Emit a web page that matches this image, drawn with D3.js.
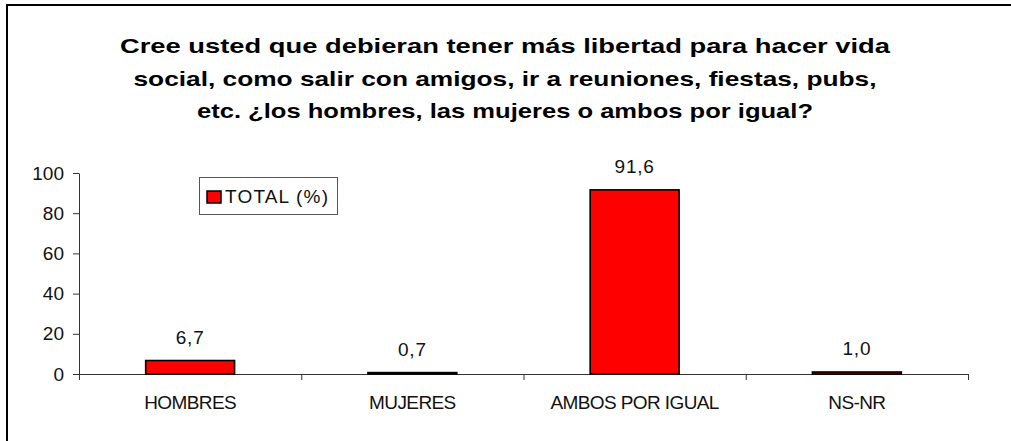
<!DOCTYPE html>
<html lang="es">
<head>
    <meta charset="UTF-8">
    <script src="https://d3js.org/d3.v7.min.js"></script>
    <title>Libertad para hacer vida social</title>
    <style>
        body { margin: 0; background: #fff; }
        svg text { font-family: "Liberation Sans", Arial, sans-serif; fill: #111; }
    </style>
</head>
<body>
    <script>
        // datos
        var categories = ['HOMBRES', 'MUJERES', 'AMBOS POR IGUAL', 'NS-NR'];
        var values = [6.7, 0.7, 91.6, 1.0];
        var yTicks = [0, 20, 40, 60, 80, 100];
        var seriesName = 'TOTAL (%)';
        var titleLines = [
            'Cree usted que debieran tener más libertad para hacer vida',
            'social, como salir con amigos, ir a reuniones, fiestas, pubs,',
            'etc. ¿los hombres, las mujeres o ambos por igual?'
        ];
        var titleWidths = [770, 743, 616];

        var width = 1011;
        var height = 441;

        var svg = d3.select('body')
                    .append('svg')
                    .attr('width', width)
                    .attr('height', height);

        // marco exterior
        svg.append('rect')
            .attr('x', 7)
            .attr('y', 5)
            .attr('width', 1020)
            .attr('height', 460)
            .attr('fill', 'none')
            .attr('stroke', '#000')
            .attr('stroke-width', 2);

        // titulo
        svg.append('g')
            .selectAll('text')
            .data(titleLines)
            .enter()
                .append('text')
                .attr('x', 505)
                .attr('y', function(d, i){ return 53 + i * 32.5; })
                .attr('text-anchor', 'middle')
                .attr('textLength', function(d, i){ return titleWidths[i]; })
                .attr('lengthAdjust', 'spacingAndGlyphs')
                .style('font-size', '21px')
                .style('font-weight', 'bold')
                .style('fill', '#000')
                .text(function(d){ return d; });

        var x = d3.scaleBand()
                  .domain(categories)
                  .range([79, 968]);
        var xEdge = d3.scaleLinear()
                      .domain([0, categories.length])
                      .range([79, 968]);
        var y = d3.scaleLinear()
                  .domain([0, 100])
                  .range([374, 173]);

        var barW = x.bandwidth() * 0.4;

        // eje x (marcas entre categorias)
        var xAxisG = svg.append('g')
            .attr('transform', 'translate(0,374)')
            .call(d3.axisBottom(xEdge).ticks(categories.length).tickSize(6).tickSizeOuter(0).tickFormat(''));
        xAxisG.selectAll('path, line').attr('stroke', '#333');

        var xLabels = svg.append('g')
            .attr('transform', 'translate(0,374)')
            .call(d3.axisBottom(x).tickSize(0).tickPadding(22));
        xLabels.select('.domain').remove();
        xLabels.selectAll('text')
            .style('font-size', '19px')
            .style('letter-spacing', '-0.6px')
            .style('font-family', '"Liberation Sans", Arial, sans-serif')
            .style('fill', '#111');

        // eje y
        var yAxisG = svg.append('g')
            .attr('transform', 'translate(79,0)')
            .call(d3.axisLeft(y).tickValues(yTicks).tickSize(6).tickSizeOuter(0).tickPadding(9));
        yAxisG.selectAll('path, line').attr('stroke', '#333');
        yAxisG.selectAll('text')
            .style('font-size', '19px')
            .style('font-family', '"Liberation Sans", Arial, sans-serif')
            .style('fill', '#111');

        // barras
        svg.append('g')
            .selectAll('rect')
            .data(values)
            .enter()
                .append('rect')
                .attr('x', function(d, i){ return x(categories[i]) + (x.bandwidth() - barW) / 2; })
                .attr('y', function(d){ return y(d); })
                .attr('width', barW)
                .attr('height', function(d){ return y(0) - y(d); })
                .attr('fill', '#ff0000')
                .attr('stroke', '#000')
                .attr('stroke-width', 1.6);

        // etiquetas de valor
        svg.append('g')
            .selectAll('text')
            .data(values)
            .enter()
                .append('text')
                .attr('x', function(d, i){ return x(categories[i]) + x.bandwidth() / 2; })
                .attr('y', function(d){ return y(d) - 17; })
                .attr('text-anchor', 'middle')
                .style('font-size', '19px')
                .style('letter-spacing', '0.8px')
                .text(function(d){ return d.toFixed(1).replace('.', ','); });

        // leyenda
        var legend = svg.append('g');
        legend.append('rect')
            .attr('x', 199.5)
            .attr('y', 177.5)
            .attr('width', 138)
            .attr('height', 37)
            .attr('fill', '#fff')
            .attr('stroke', '#555')
            .attr('stroke-width', 1);
        legend.append('rect')
            .attr('x', 207)
            .attr('y', 191)
            .attr('width', 14)
            .attr('height', 12)
            .attr('fill', '#ff0000')
            .attr('stroke', '#000')
            .attr('stroke-width', 1.5);
        legend.append('text')
            .attr('x', 225)
            .attr('y', 203)
            .attr('textLength', 103)
            .attr('lengthAdjust', 'spacing')
            .style('font-size', '19px')
            .text(seriesName);
    </script>
</body>
</html>
